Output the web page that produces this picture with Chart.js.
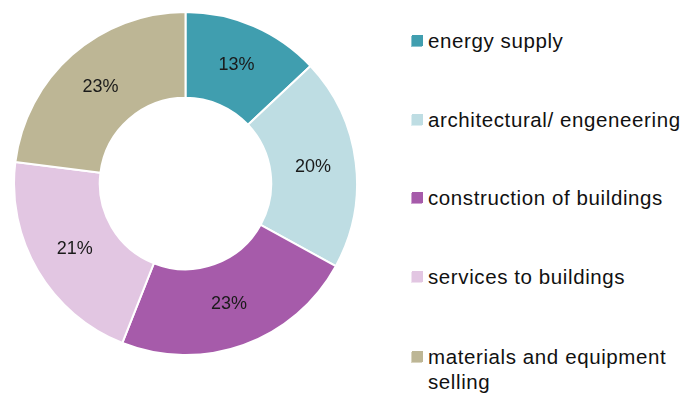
<!DOCTYPE html>
<html>
<head>
<meta charset="utf-8">
<script src="https://cdn.jsdelivr.net/npm/chart.js@4/dist/chart.umd.min.js"></script>
<style>
  html, body { margin: 0; padding: 0; background: #fff; }
  #wrap { position: relative; width: 684px; height: 394px; overflow: hidden; }
  #chartBox { position: absolute; left: 13px; top: 11px; width: 345px; height: 345px; }
  #legend { position: absolute; left: 412px; top: 0; font-family: "Liberation Sans", Arial, sans-serif; font-size: 20.5px; letter-spacing: 0.6px; color: #111; }
  .item { position: absolute; left: 0; white-space: nowrap; line-height: 25px; }
  .box { position: absolute; left: 0; top: 7px; width: 11px; height: 11px; }
  .txt { position: absolute; left: 16px; top: 0; }
</style>
</head>
<body>
<div id="wrap">
  <div id="chartBox"><canvas id="donut"></canvas></div>
  <div id="legend"></div>
</div>
<script>
// categorias y porcentajes
const categorias = ["energy supply", "architectural/ engeneering", "construction of buildings", "services to buildings", "materials and equipment selling"];
const porcentajes = [13, 20, 23, 21, 23];
const colores = ["#409EAF", "#BEDDE3", "#A65BAA", "#E2C6E2", "#BDB695"];
const coloresClaros = ["#8CC4CF", "#DCEEF1", "#CFA3D1", "#F0E2F0", "#DAD5C0"];

// leyenda a mano, a la derecha
const legendLines = [["energy supply"], ["architectural/ engeneering"], ["construction of buildings"], ["services to buildings"], ["materials and equipment", "selling"]];
const legendTops = [28, 107, 185, 264, 344];
const legendEl = document.getElementById("legend");
legendLines.forEach((lineas, i) => {
    const item = document.createElement("div");
    item.className = "item";
    item.style.top = legendTops[i] + "px";
    const box = document.createElement("div");
    box.className = "box";
    box.style.background = colores[i];
    box.style.boxShadow = "-1px 1px 0 " + coloresClaros[i];
    const txt = document.createElement("div");
    txt.className = "txt";
    txt.innerHTML = lineas.join("<br>");
    item.appendChild(box);
    item.appendChild(txt);
    legendEl.appendChild(item);
});

// etiquetas de porcentaje en medio del anillo
const etiquetasPlugin = {
    id: "etiquetas",
    afterDatasetsDraw(chart) {
        const ctx = chart.ctx;
        const meta = chart.getDatasetMeta(0);
        ctx.save();
        ctx.font = "18px 'Liberation Sans', Arial, sans-serif";
        ctx.fillStyle = "#1a1a1a";
        ctx.textAlign = "center";
        ctx.textBaseline = "middle";
        meta.data.forEach((arc, i) => {
            const p = arc.tooltipPosition();
            ctx.fillText(porcentajes[i] + "%", p.x, p.y);
        });
        ctx.restore();
    }
};

new Chart(document.getElementById("donut"), {
    type: "doughnut",
    data: {
        labels: categorias,
        datasets: [{
            data: porcentajes,
            backgroundColor: colores,
            borderColor: "#ffffff",
            borderWidth: 2
        }]
    },
    options: {
        responsive: true,
        maintainAspectRatio: false,
        animation: false,
        cutout: "50%",
        layout: { padding: 0 },
        plugins: {
            legend: { display: false },
            tooltip: { enabled: false }
        }
    },
    plugins: [etiquetasPlugin]
});
</script>
</body>
</html>
